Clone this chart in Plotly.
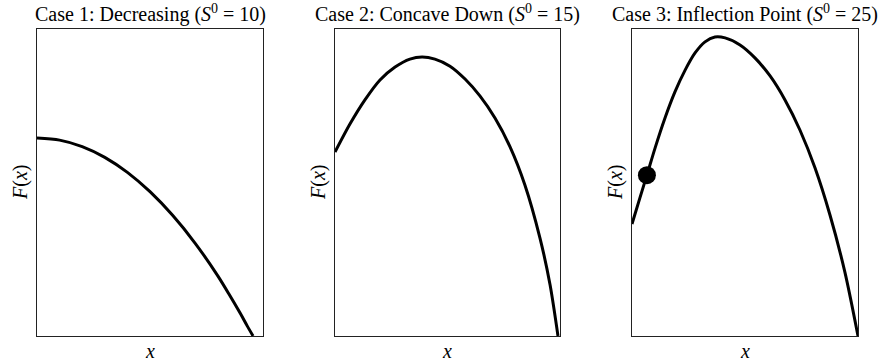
import plotly.graph_objects as go

# Case 1: Decreasing
x1 = [0, 0.1, 0.2, 0.3, 0.4, 0.5, 0.6, 0.7, 0.8, 0.85, 0.9, 0.93, 0.956]
f1 = [0.645, 0.638, 0.617, 0.582, 0.533, 0.470, 0.393, 0.302, 0.196, 0.136, 0.073, 0.033, 0.0]

# Case 2: Concave Down
x2 = [0, 0.067, 0.133, 0.2, 0.267, 0.333, 0.387, 0.444, 0.511, 0.578, 0.644, 0.711, 0.778, 0.844, 0.911, 0.956, 0.991]
f2 = [0.599, 0.691, 0.769, 0.834, 0.876, 0.902, 0.909, 0.902, 0.879, 0.837, 0.782, 0.710, 0.616, 0.492, 0.319, 0.166, 0.0]

# Case 3: Inflection Point
x3 = [0, 0.035, 0.066, 0.102, 0.146, 0.190, 0.235, 0.279, 0.323, 0.367, 0.412, 0.478, 0.544, 0.611, 0.677, 0.743, 0.810, 0.876, 0.942, 1.0]
f3 = [0.365, 0.450, 0.524, 0.612, 0.710, 0.795, 0.866, 0.922, 0.958, 0.974, 0.971, 0.948, 0.906, 0.847, 0.769, 0.671, 0.547, 0.394, 0.208, 0.0]

x_infl = [0.066]
f_infl = [0.524]

titles = ["Case 1: Decreasing (<i>S</i><sup>0</sup> = 10)",
          "Case 2: Concave Down (<i>S</i><sup>0</sup> = 15)",
          "Case 3: Inflection Point (<i>S</i><sup>0</sup> = 25)"]

W, H = 885, 362
ML, MR, MT, MB = 0, 0, 29, 26
panels_px = [(37, 263), (335, 560), (632, 858)]
domains = [[a / W, b / W] for a, b in panels_px]

FONT = "Liberation Serif"

fig = go.Figure()
series = [(x1, f1), (x2, f2), (x3, f3)]
for i, (xs, fs) in enumerate(series):
    ax = "" if i == 0 else str(i + 1)
    fig.add_trace(go.Scatter(x=xs, y=fs, mode="lines",
                             line=dict(color="black", width=3, shape="spline", smoothing=0.8),
                             xaxis="x" + ax, yaxis="y" + ax, showlegend=False, hoverinfo="skip"))
fig.add_trace(go.Scatter(x=x_infl, y=f_infl, mode="markers",
                         marker=dict(color="black", size=18),
                         xaxis="x3", yaxis="y3", showlegend=False, hoverinfo="skip"))

layout = dict(width=W, height=H, margin=dict(l=ML, r=MR, t=MT, b=MB),
              paper_bgcolor="white", plot_bgcolor="white",
              font=dict(family=FONT, color="black", size=18))
axis_common = dict(range=[0, 1], showgrid=False, zeroline=False, showticklabels=False,
                   ticks="", showline=True, mirror=True, linecolor="#222", linewidth=1)
for i in range(3):
    sfx = "" if i == 0 else str(i + 1)
    layout["xaxis" + sfx] = dict(axis_common, domain=domains[i], anchor="y" + sfx)
    layout["yaxis" + sfx] = dict(axis_common, domain=[0, 1], anchor="x" + sfx)
fig.update_layout(**layout)

plot_h = H - MT - MB
def py(p):
    return (H - MB - p) / plot_h

for i, (a, b) in enumerate(panels_px):
    cx = (a + b) / 2 / W
    fig.add_annotation(text=titles[i], x=cx, y=py(14), xref="paper", yref="paper",
                       showarrow=False, xanchor="center", yanchor="middle",
                       font=dict(family=FONT, size=20, color="black"))
    fig.add_annotation(text="<i>x</i>", x=cx, y=py(351), xref="paper", yref="paper",
                       showarrow=False, xanchor="center", yanchor="middle",
                       font=dict(family=FONT, size=20, color="black"))
    fig.add_annotation(text="<i>F</i>(<i>x</i>)", x=(a - 17) / W, y=py(183), xref="paper", yref="paper",
                       showarrow=False, xanchor="center", yanchor="middle", textangle=-90,
                       font=dict(family=FONT, size=20, color="black"))

fig.write_html("out.html", config={"displayModeBar": False},
               post_script="document.body.style.margin='0px';document.body.style.overflow='hidden';")
